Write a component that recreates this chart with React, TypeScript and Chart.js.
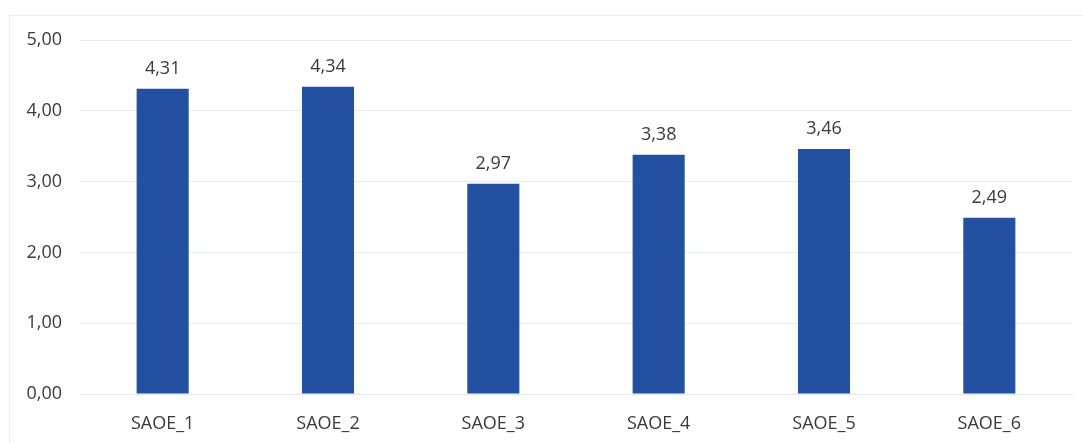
import React, { useEffect, useRef } from "react";
import { Chart, registerables } from "chart.js";

Chart.register(...registerables);

const categories = ["SAOE_1", "SAOE_2", "SAOE_3", "SAOE_4", "SAOE_5", "SAOE_6"];
const values = [4.31, 4.34, 2.97, 3.38, 3.46, 2.49];
const yTicks = [0, 1, 2, 3, 4, 5];

const fmt = (v: number) => v.toFixed(2).replace(".", ",");

const FONT = "'Open Sans', sans-serif";
const TEXT = "#3a3a3a";

const valueLabels = {
  id: "valueLabels",
  afterDatasetsDraw(chart: any) {
    const { ctx } = chart;
    const meta = chart.getDatasetMeta(0);
    ctx.save();
    ctx.font = `18px ${FONT}`;
    ctx.fillStyle = TEXT;
    ctx.textAlign = "center";
    ctx.textBaseline = "alphabetic";
    meta.data.forEach((bar: any, i: number) => {
      ctx.fillText(fmt(values[i]), bar.x, bar.y - 15);
    });
    ctx.restore();
  },
};

export default function App() {
  const ref = useRef<HTMLCanvasElement>(null);
  useEffect(() => {
    if (!ref.current) return;
    const chart = new Chart(ref.current, {
      type: "bar",
      data: {
        labels: categories,
        datasets: [
          {
            data: values,
            backgroundColor: "#2350A0",
            borderWidth: 0,
            barPercentage: 0.315,
            categoryPercentage: 1,
          },
        ],
      },
      options: {
        animation: false,
        responsive: false,
        maintainAspectRatio: false,
        layout: { padding: { top: 40, right: 11, left: 0, bottom: 0 } },
        plugins: { legend: { display: false }, tooltip: { enabled: false } },
        scales: {
          x: {
            grid: { display: false, drawTicks: false },
            border: { color: "#E0EAF1", width: 1 },
            ticks: { color: TEXT, font: { family: FONT, size: 18 }, padding: 19 },
            afterFit: (s: any) => {
              s.height = 49;
            },
          },
          y: {
            min: 0,
            max: 5,
            afterBuildTicks: (s: any) => {
              s.ticks = yTicks.map((v) => ({ value: v }));
            },
            grid: { color: "#E3ECF3", drawTicks: false },
            border: { display: false },
            ticks: {
              color: TEXT,
              font: { family: FONT, size: 18 },
              padding: 18,
              callback: (v: any) => fmt(Number(v)),
            },
            afterFit: (s: any) => {
              s.width = 80;
            },
          },
        },
      },
      plugins: [valueLabels],
    });
    return () => chart.destroy();
  }, []);
  return (
    <div style={{ position: "fixed", left: 0, top: 0, width: 1083, height: 443, background: "#fff", overflow: "hidden" }}>
      <div
        style={{
          position: "absolute",
          left: 9,
          top: 15,
          width: 1100,
          height: 500,
          borderLeft: "1px solid #E8EDF1",
          borderTop: "1px solid #E8EDF1",
        }}
      />
      <canvas ref={ref} width={1083} height={443} style={{ position: "absolute", left: 0, top: 0 }} />
    </div>
  );
}
